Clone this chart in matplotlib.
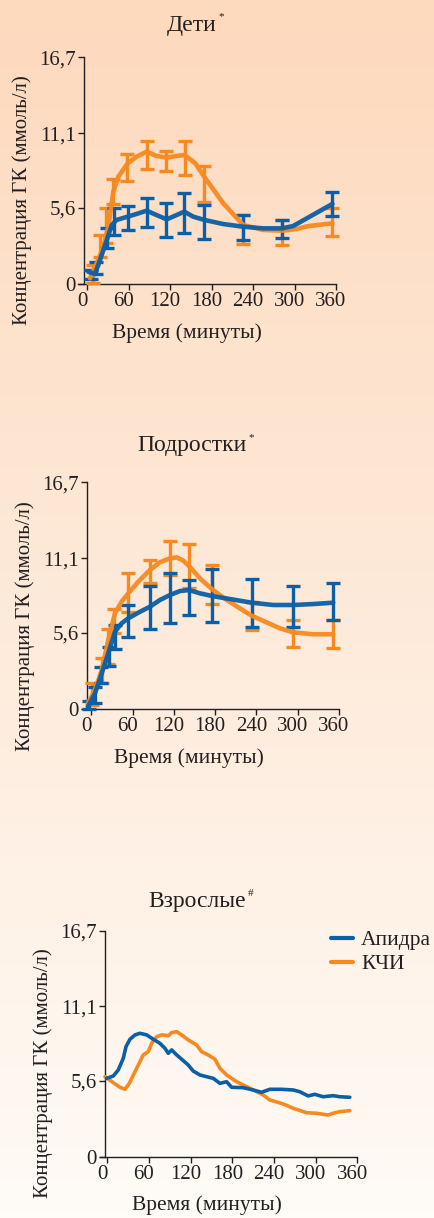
import numpy as np
import matplotlib
matplotlib.use("Agg")
import matplotlib.pyplot as plt
from matplotlib.transforms import ScaledTranslation

# ---------------- data ----------------
x_ticks = [0, 60, 120, 180, 240, 300, 360]
y_ticks = [0, 5.6, 11.1, 16.7]
y_tick_labels = ["0", "5,6", "11,1", "16,7"]
titles = ["Дети", "Подростки", "Взрослые"]
title_marks = ["*", "*", "#"]
xlabel = "Время (минуты)"
ylabel = "Концентрация ГК (ммоль/л)"
series_names = ["Апидра", "КЧИ"]

# Дети (children)
kids_blue_t = [1.6, 11.3, 18.5, 28.4, 35.6, 42.6, 58.5, 71.4, 86, 100.4, 115, 129.4, 140.5,
               153.4, 169.4, 196.6, 225.7, 254.7, 282, 298, 322, 354.8]
kids_blue_v = [0.9, 0.74, 1.77, 3.24, 4.35, 4.72, 4.96, 5.16, 5.4, 5.08, 4.76, 5.08, 5.33,
               4.96, 4.72, 4.42, 4.22, 4.1, 4.1, 4.27, 4.96, 5.9]
kids_orange_t = [4, 13.7, 23.4, 30.5, 37.8, 45, 58.5, 71.6, 86, 100.4, 115, 129.4, 141,
                 156.5, 169.4, 196.7, 225.7, 254.7, 282, 303, 320.3, 354.8]
kids_orange_v = [0.42, 1.52, 2.75, 4.22, 6.8, 7.9, 8.89, 9.38, 9.75, 9.43, 9.31, 9.43, 9.5,
                 8.89, 7.9, 5.95, 4.35, 3.98, 3.93, 4.05, 4.27, 4.47]
kids_blue_err_t = [5, 12.7, 29, 39, 58.5, 86, 114.6, 140.5, 169.4, 225.7, 282, 354.8]
kids_blue_err_lo = [0.35, 0.7, 2.63, 3.6, 4.0, 4.18, 3.49, 3.78, 3.34, 3.24, 3.37, 5.03]
kids_blue_err_hi = [1.03, 1.64, 4.1, 5.58, 5.75, 6.36, 6.0, 6.73, 5.82, 5.08, 4.72, 6.8]
kids_orange_err_t = [8, 18, 27, 37, 58, 86, 114.6, 141, 169.4, 225.7, 282, 354.8]
kids_orange_err_lo = [0.1, 2.0, 3.0, 5.9, 7.6, 8.45, 8.35, 8.0, 6.05, 2.95, 2.85, 3.5]
kids_orange_err_hi = [1.4, 3.6, 5.6, 7.7, 9.6, 10.55, 9.8, 10.55, 8.7, 5.08, 4.72, 5.58]

# Подростки (adolescents)
teen_blue_t = [-5, 5.2, 13.5, 26, 34.3, 44, 53.7, 68, 85, 99.7, 114, 128.8, 142, 157.8,
               175.7, 201.5, 233, 264.4, 293.5, 322.5, 351.6]
teen_blue_v = [0.15, 1.13, 2.36, 4.33, 5.68, 6.3, 6.67, 7.08, 7.52, 8.02, 8.38, 8.68, 8.75, 8.51,
               8.31, 8.09, 7.82, 7.65, 7.65, 7.72, 7.82]
teen_orange_t = [-5, 5.2, 15, 24.6, 34.3, 44, 53.7, 68.2, 85, 99.7, 114, 124, 133.6, 142,
                 157.8, 175.7, 196.6, 216, 233, 254.8, 274, 293.5, 322.5, 351.6]
teen_orange_v = [0.4, 1.38, 2.85, 5.07, 7.04, 7.9, 8.51, 9.37, 10.23, 10.8, 11.09, 11.16, 10.92, 10.52,
                 9.62, 8.8, 8.02, 7.4, 6.86, 6.37, 5.93, 5.63, 5.49, 5.49]
teen_blue_err_t = [-4, 5.2, 13.5, 26, 34.3, 53.7, 85, 114, 142, 175.7, 233, 293.5, 351.6]
teen_blue_err_lo = [0.0, 0.4, 1.87, 3.15, 4.38, 5.31, 5.88, 6.34, 6.91, 6.42, 6.0, 6.0, 6.54]
teen_blue_err_hi = [0.59, 1.62, 3.1, 4.57, 6.17, 7.65, 9.05, 9.98, 9.49, 10.28, 9.54, 9.05, 9.29]
teen_orange_err_t = [1, 15, 24, 33, 53.7, 85, 114, 142, 175.7, 233, 293.5, 351.6]
teen_orange_err_lo = [0.3, 1.87, 3.3, 5.6, 7.1, 9.3, 9.83, 8.9, 7.72, 5.8, 4.57, 4.5]
teen_orange_err_hi = [1.9, 3.71, 5.86, 7.33, 9.98, 11.0, 12.37, 12.15, 10.6, 7.9, 6.54, 6.54]

# Взрослые (adults)
adult_blue_t = [-1, 8.6, 15.8, 23, 26.9, 32.7, 39.9, 47, 56.7, 66.2, 75.8, 83, 87.8, 92.7, 99.9,
                109.4, 116.5, 123.7, 133.4, 143, 152.5, 162.2, 171.8, 179, 195.7, 210, 222.2,
                234, 250.9, 267.6, 277.3, 289.2, 298.8, 310.8, 325.2, 334.8, 349.2]
adult_blue_v = [5.79, 5.96, 6.41, 7.27, 8.13, 8.68, 9.0, 9.12, 9.0, 8.68, 8.38, 8.01, 7.64, 7.89, 7.52,
                7.1, 6.78, 6.33, 6.04, 5.91, 5.79, 5.42, 5.54, 5.13, 5.1, 4.93, 4.76,
                4.98, 4.98, 4.93, 4.8, 4.49, 4.61, 4.43, 4.51, 4.43, 4.39]
adult_orange_t = [-3.3, 8.6, 18.3, 25.5, 31.7, 39.9, 47, 51.8, 59, 63.9, 71.1, 78.3, 87.8, 92.7,
                  99.9, 107, 116.5, 128.6, 135.8, 145.3, 155, 162.2, 171.8, 186.2, 205.3, 224.5,
                  234, 253.2, 267.6, 286.9, 301.3, 318, 325.2, 334.8, 349.2]
adult_orange_v = [5.91, 5.47, 5.13, 4.98, 5.42, 6.28, 7.02, 7.52, 7.76, 8.38, 8.87, 9.0, 8.94, 9.17,
                  9.24, 9.0, 8.63, 8.26, 7.76, 7.52, 7.2, 6.53, 6.04, 5.54, 5.06, 4.56,
                  4.19, 3.9, 3.58, 3.25, 3.21, 3.08, 3.21, 3.33, 3.40]

# ---------------- style ----------------
W, H = 435, 1218
DPI = 100
BLUE = "#0A5FA6"
ORANGE = "#F6891F"
INK = "#231F20"
FONT = ["Liberation Serif", "DejaVu Serif"]
FS = 15

plt.rcParams["font.family"] = FONT

fig = plt.figure(figsize=(W / DPI, H / DPI), dpi=DPI)

# background gradient
bg = fig.add_axes([0, 0, 1, 1], zorder=-10)
top = np.array([253, 217, 189]) / 255.0
bot = np.array([255, 251, 246]) / 255.0
f = np.linspace(0, 1, 256)[:, None]
grad = top[None, :] * (1 - f) + bot[None, :] * f
bg.imshow(grad[:, None, :], aspect="auto", extent=[0, 1, 0, 1])
bg.set_axis_off()


def fx(px):
    return px / W


def fy(py):
    return 1 - py / H


def make_axes(x_start, x_axis, x_end, y_top, y_bot, t0_px, per_min):
    ax = fig.add_axes([fx(x_start), fy(y_bot), fx(x_end - x_start), (y_bot - y_top) / H])
    ax.set_facecolor("none")
    ax.set_xlim((x_start - t0_px) / per_min, 360)
    ax.set_ylim(0, 16.7)
    ax.spines["top"].set_visible(False)
    ax.spines["right"].set_visible(False)
    ax.spines["left"].set_position(("data", (x_axis - t0_px) / per_min))
    for s in ("left", "bottom"):
        ax.spines[s].set_color(INK)
        ax.spines[s].set_linewidth(1.0)
    ax.set_xticks(x_ticks)
    ax.set_xticklabels([str(v) for v in x_ticks])
    ax.set_yticks(y_ticks)
    ax.set_yticklabels(y_tick_labels)
    ax.tick_params(direction="out", length=4, width=1.0, colors=INK, labelsize=FS, pad=2)
    for lab in ax.get_xticklabels():
        lab.set_transform(lab.get_transform() + ScaledTranslation(-5 / DPI, 0, fig.dpi_scale_trans))
    return ax


def draw_err(ax, t, lo, hi, color):
    lo = np.asarray(lo)
    hi = np.asarray(hi)
    mid = (lo + hi) / 2
    ax.errorbar(t, mid, yerr=(hi - lo) / 2, fmt="none", ecolor=color, elinewidth=2.4,
                capsize=5, capthick=2.4, clip_on=False, zorder=3)


# panel 1
ax1 = make_axes(78.3, 84.3, 336, 57.3, 284, 87.2, 41.5 / 60)
draw_err(ax1, kids_orange_err_t, kids_orange_err_lo, kids_orange_err_hi, ORANGE)
ax1.plot(kids_orange_t, kids_orange_v, color=ORANGE, lw=3.3, solid_joinstyle="round",
         solid_capstyle="round", alpha=0.95, zorder=4)
draw_err(ax1, kids_blue_err_t, kids_blue_err_lo, kids_blue_err_hi, BLUE)
ax1.plot(kids_blue_t, kids_blue_v, color=BLUE, lw=3.3, solid_joinstyle="round",
         solid_capstyle="round", alpha=0.95, zorder=5)

# panel 2
ax2 = make_axes(81.7, 87.3, 339, 482.3, 708.7, 91.4, 41.3 / 60)
draw_err(ax2, teen_orange_err_t, teen_orange_err_lo, teen_orange_err_hi, ORANGE)
ax2.plot(teen_orange_t, teen_orange_v, color=ORANGE, lw=3.3, solid_joinstyle="round",
         solid_capstyle="round", alpha=0.95, zorder=4)
draw_err(ax2, teen_blue_err_t, teen_blue_err_lo, teen_blue_err_hi, BLUE)
ax2.plot(teen_blue_t, teen_blue_v, color=BLUE, lw=3.3, solid_joinstyle="round",
         solid_capstyle="round", alpha=0.95, zorder=5)

# panel 3
ax3 = make_axes(100, 105.3, 357.3, 930.7, 1156.7, 107.3, 41.67 / 60)
l_b, = ax3.plot(adult_blue_t, adult_blue_v, color=BLUE, lw=2.6, solid_joinstyle="round",
                solid_capstyle="round", zorder=5)
l_o, = ax3.plot(adult_orange_t, adult_orange_v, color=ORANGE, lw=2.6, solid_joinstyle="round",
                solid_capstyle="round", zorder=4)
ax3.legend([l_b, l_o], series_names, loc="upper left", bbox_to_anchor=(fx(331), fy(930)),
           bbox_transform=fig.transFigure, frameon=False, fontsize=FS + 0.5, handlelength=1.0,
           handletextpad=0.4, labelspacing=0.2, borderaxespad=0, borderpad=0,
           labelcolor=INK)
for h in ax3.get_legend().legend_handles:
    h.set_linewidth(3.0)

# titles with superscript marks placed right after the text
renderer = fig.canvas.get_renderer()
title_pos = [(192, 25), (192, 446), (197, 902)]
for (tx, ty), t, m in zip(title_pos, titles, title_marks):
    tt = fig.text(fx(tx), fy(ty), t, ha="center", va="center", fontsize=FS + 2, color=INK)
    bb = tt.get_window_extent(renderer)
    fig.text((bb.x1 + 1.5) / W, (bb.y1 - 2) / H, m, ha="left", va="center", fontsize=8, color=INK)

for xc, yc in [(187, 333), (189, 758), (207, 1205)]:
    fig.text(fx(xc), fy(yc), xlabel, ha="center", va="center", fontsize=FS + 0.5, color=INK)
for xc, yc in [(21.7, 200), (25, 626.5), (43, 1073.5)]:
    fig.text(fx(xc), fy(yc), ylabel, ha="center", va="center", rotation=90, fontsize=FS, color=INK)

fig.savefig("out.png", dpi=DPI)
